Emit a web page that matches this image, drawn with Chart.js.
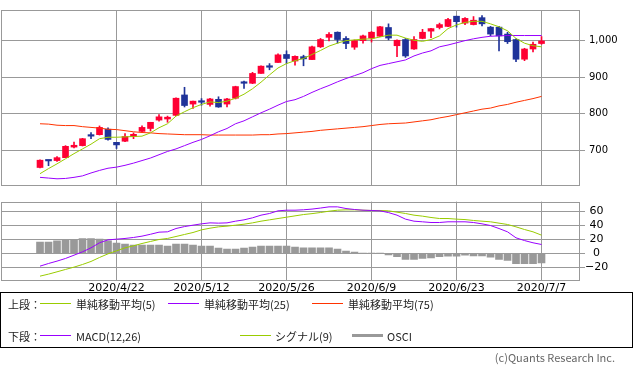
<!DOCTYPE html>
<html><head><meta charset="utf-8">
<script src="https://cdn.jsdelivr.net/npm/chart.js@4.4.1/dist/chart.umd.min.js"></script>
<style>
html,body{margin:0;padding:0;background:#fff;width:633px;height:373px;overflow:hidden;position:relative;font-family:"Noto Sans CJK JP","Noto Sans",sans-serif;}
#c1{position:absolute;left:0;top:0;}
#c2{position:absolute;left:0;top:195px;}
#legend{position:absolute;left:0;top:292px;width:631px;height:54px;border:1px solid #000;}
.t{position:absolute;font-size:11px;line-height:14px;color:#222;white-space:nowrap;}
.ln{position:absolute;height:1px;width:31px;}
#copy{position:absolute;right:18px;top:350px;font-size:11px;line-height:14px;color:#666;white-space:nowrap;}
</style></head>
<body>
<canvas id="c1" width="633" height="195"></canvas>
<canvas id="c2" width="633" height="100"></canvas>
<div id="legend"></div>
<div class="t" style="left:8px;top:297px">上段：</div>
<div class="ln" style="left:40px;top:303px;background:#99cc00"></div>
<div class="t" style="left:76px;top:297px">単純移動平均(5)</div>
<div class="ln" style="left:168px;top:303px;background:#9900ff"></div>
<div class="t" style="left:204px;top:297px">単純移動平均(25)</div>
<div class="ln" style="left:312px;top:303px;background:#ff3300"></div>
<div class="t" style="left:348px;top:297px">単純移動平均(75)</div>
<div class="t" style="left:8px;top:329px">下段：</div>
<div class="ln" style="left:40px;top:335px;background:#9900ff"></div>
<div class="t" style="left:76px;top:329px">MACD(12,26)</div>
<div class="ln" style="left:240px;top:335px;background:#99cc00"></div>
<div class="t" style="left:275px;top:329px">シグナル(9)</div>
<div class="ln" style="left:352px;top:334px;height:3px;background:#999"></div>
<div class="t" style="left:387px;top:329px">OSCI</div>
<div id="copy">(c)Quants Research Inc.</div>
<script>
// ---- data ----
const dates = ['2020/4/9','2020/4/10','2020/4/13','2020/4/14','2020/4/15','2020/4/16','2020/4/17','2020/4/20','2020/4/21','2020/4/22',
'2020/4/23','2020/4/24','2020/4/27','2020/4/28','2020/4/30','2020/5/1','2020/5/7','2020/5/8','2020/5/11','2020/5/12',
'2020/5/13','2020/5/14','2020/5/15','2020/5/18','2020/5/19','2020/5/20','2020/5/21','2020/5/22','2020/5/25','2020/5/26',
'2020/5/27','2020/5/28','2020/5/29','2020/6/1','2020/6/2','2020/6/3','2020/6/4','2020/6/5','2020/6/8','2020/6/9',
'2020/6/10','2020/6/11','2020/6/12','2020/6/15','2020/6/16','2020/6/17','2020/6/18','2020/6/19','2020/6/22','2020/6/23',
'2020/6/24','2020/6/25','2020/6/26','2020/6/29','2020/6/30','2020/7/1','2020/7/2','2020/7/3','2020/7/6','2020/7/7'];
const open  = [652,672,671,679,708,712,740,742,757,721, 724,737,751,759,782,785,795,851,826,833, 825,839,826,842,885,883,910,929,940,962,
               944,956,948,983,1009,1023,1006,982,1000,1007, 1012,1036,986,1003,977,1006,1026,1036,1039,1067, 1048,1044,1063,1037,1037,1018,1003,949,977,992];
const high  = [673,672,682,712,722,732,748,766,761,721, 745,747,766,776,797,793,843,872,834,841, 842,846,842,875,889,913,931,937,964,972,
               958,960,985,1006,1022,1024,1011,1002,1015,1025, 1039,1046,1002,1006,1011,1031,1034,1048,1061,1067, 1063,1066,1069,1039,1039,1023,1005,979,996,1011];
const low   = [651,657,669,679,706,711,731,741,727,704, 723,731,750,752,779,776,794,818,814,823, 820,817,818,840,869,882,910,920,940,937,
               933,931,948,981,999,993,978,976,993,996, 1011,1002,956,954,976,1005,1008,1032,1038,1037, 1044,1043,1040,1013,972,992,942,945,969,990];
const close = [672,670,679,710,713,731,738,762,729,714, 737,743,762,776,791,790,842,822,834,831, 840,818,840,874,883,910,930,927,961,951,
               957,950,983,1003,1017,1003,992,1000,1013,1023, 1038,1007,1001,958,1003,1023,1033,1044,1058,1052, 1061,1056,1046,1018,1013,997,949,977,990,999];
const ma5   = [635,649,662,676,690,703,716,731,735,735, 736,737,738,747,761,772,793,805,816,825, 832,830,834,842,853,868,886,906,925,937,
               945,951,962,973,985,993,1000,1002,1004,1005, 1010,1015,1015,1007,1001,998,1003,1013,1033,1043, 1050,1053,1053,1046,1038,1027,1006,993,986,983];
const ma25  = [625,623,621,622,625,629,637,644,650,653, 658,664,671,678,687,696,703,712,721,729, 739,750,759,772,780,791,802,812,823,833,
               838,847,858,868,877,887,896,904,912,923, 932,937,942,947,958,966,972,983,988,994, 1000,1005,1009,1012,1013,1014,1014,1014,1014,1014];
const ma75  = [772,771,768,767,767,764,762,760,757,756, 753,750,748,747,745,744,743,742,742,742, 741,741,741,741,741,741,742,742,744,745,
               747,749,751,754,756,758,760,762,764,767, 770,772,773,774,777,780,783,788,792,797, 802,807,812,815,821,825,831,836,841,847];
const macd  = [-18.6,-14.8,-11.4,-7.6,-2.9,1.9,7.6,14.8,19,20, 21,22.4,24.3,27,30,30.5,35.2,38,40,41.9, 43.3,42.9,43.3,45.7,47.6,50.5,54.3,56.7,60.5,61.4,
               61.4,62,63,64.5,66.2,66.2,63.8,62.4,61.4,61, 60.5,58,54.3,48.6,45.7,44.8,43.8,43.8,44.8,44.8, 44.8,43.8,41.9,39.5,35.2,30.5,21.9,18,14.8,12.4];
const signal= [-32.9,-30,-26.7,-23.3,-20,-16.2,-11.9,-6.2,-1,3.3, 7.6,10.5,13.8,16.7,19.5,21,23.8,26.7,29.5,33.3, 35.7,37.6,38.6,40,41.4,43.3,45.7,47.6,49.5,51.4,
               53.3,55.2,56.5,58.1,60,61.4,61.9,61.9,61.4,61, 61,60.5,58.6,56.7,54.3,52.9,51,49.5,49.5,48.6, 48,46.7,45.7,44.8,42.9,41,37.6,33.8,30.5,25.7];
const osci  = [15.7,15.7,17.6,19,19,21,21,20,17.6,14.3, 12.9,11.4,11.4,11.4,11.4,10,12.9,12.9,11.4,10, 10,7.1,5.7,5.7,7.1,8.6,10,10,10,10,
               8.6,7.6,7.6,7.6,7.6,5.7,2.9,1.4,0,0, 0,-2.4,-5.2,-9,-9,-7.6,-6.7,-5.2,-4.3,-4.3, -2.9,-3.8,-3.8,-5.7,-9,-10.5,-15.2,-15.2,-15.2,-13.8];
const xTickLabels = ['2020/4/22','2020/5/12','2020/5/26','2020/6/9','2020/6/23','2020/7/7'];
const priceTicks = [700,800,900,1000];
const macdTicks = [-20,0,20,40,60];

// ---- styles ----
const RED='#ff0033', BLUE='#1f3399', GRID='#999999';
Chart.defaults.font.family='"DejaVu Sans", sans-serif';
Chart.defaults.color='#000';
const xTickIdx = xTickLabels.map(l=>dates.indexOf(l));
const XMIN=-4.59, XMAX=63.41;
const frame={id:'frame',beforeDatasetsDraw(chart){const {ctx,chartArea:a}=chart;ctx.save();ctx.strokeStyle=GRID;ctx.lineWidth=1;
  ctx.strokeRect(Math.round(a.left)+0.5,Math.round(a.top)+0.5,Math.round(a.right-a.left),Math.round(a.bottom-a.top));ctx.restore();}};
const pts = arr => arr.map((v,i)=>({x:i,y:v}));
const candleColors = close.map((c,i)=> c>=open[i]?RED:BLUE);

new Chart(document.getElementById('c1'),{
  data:{datasets:[
    {type:'line',data:pts(ma5),borderColor:'#99cc00',borderWidth:1,pointRadius:0,order:0},
    {type:'line',data:pts(ma25),borderColor:'#9900ff',borderWidth:1,pointRadius:0,order:0},
    {type:'line',data:pts(ma75),borderColor:'#ff3300',borderWidth:1,pointRadius:0,order:0},
    {type:'bar',data:open.map((o,i)=>({x:i,y:[o,close[i]]})),backgroundColor:candleColors,barThickness:6,minBarLength:1.5,grouped:false,order:1},
    {type:'bar',data:low.map((l,i)=>({x:i,y:[l,high[i]]})),backgroundColor:candleColors,barThickness:1,grouped:false,order:2}
  ]},
  options:{responsive:false,animation:false,events:[],
    layout:{padding:{left:1,right:0,top:0,bottom:5}},
    plugins:{legend:{display:false},tooltip:{enabled:false}},
    scales:{
      x:{type:'linear',min:XMIN,max:XMAX,offset:false,
        afterBuildTicks:s=>{s.ticks=xTickIdx.map(v=>({value:v}));},
        afterFit:s=>{s.height=0;},
        grid:{color:GRID,drawTicks:false,offset:false},border:{display:false},ticks:{display:false}},
      y:{type:'linear',position:'right',min:604,max:1084,
        afterBuildTicks:s=>{s.ticks=priceTicks.map(v=>({value:v}));},
        afterFit:s=>{s.width=54;},
        grid:{color:GRID,tickLength:6},border:{display:false},
        ticks:{font:{size:10},padding:4,crossAlign:'near',color:'#000',callback:v=>v.toLocaleString('en-US')}}
    }},
  plugins:[frame]
});

new Chart(document.getElementById('c2'),{
  data:{datasets:[
    {type:'line',data:pts(macd),borderColor:'#9900ff',borderWidth:1,pointRadius:0,order:0},
    {type:'line',data:pts(signal),borderColor:'#99cc00',borderWidth:1,pointRadius:0,order:0},
    {type:'bar',data:pts(osci),backgroundColor:'#999999',barThickness:7,grouped:false,order:1}
  ]},
  options:{responsive:false,animation:false,events:[],
    layout:{padding:{left:1,right:0,top:6,bottom:0}},
    plugins:{legend:{display:false},tooltip:{enabled:false}},
    scales:{
      x:{type:'linear',min:XMIN,max:XMAX,offset:false,
        afterBuildTicks:s=>{s.ticks=xTickIdx.map(v=>({value:v}));},
        afterFit:s=>{s.height=15;},
        grid:{color:GRID,drawTicks:false,offset:false},border:{display:false},
        ticks:{font:{size:11},padding:2,maxRotation:0,autoSkip:false,color:'#000',callback:v=>dates[v]}},
      y:{type:'linear',position:'right',min:-38.4,max:73.7,
        afterBuildTicks:s=>{s.ticks=macdTicks.map(v=>({value:v}));},
        afterFit:s=>{s.width=54;},
        grid:{color:GRID,tickLength:6},border:{display:false},
        ticks:{font:{size:11},padding:0,crossAlign:'center',color:'#000',callback:v=>v<0?'\u2212'+Math.abs(v):String(v)}}
    }},
  plugins:[frame]
});
</script>
</body></html>
